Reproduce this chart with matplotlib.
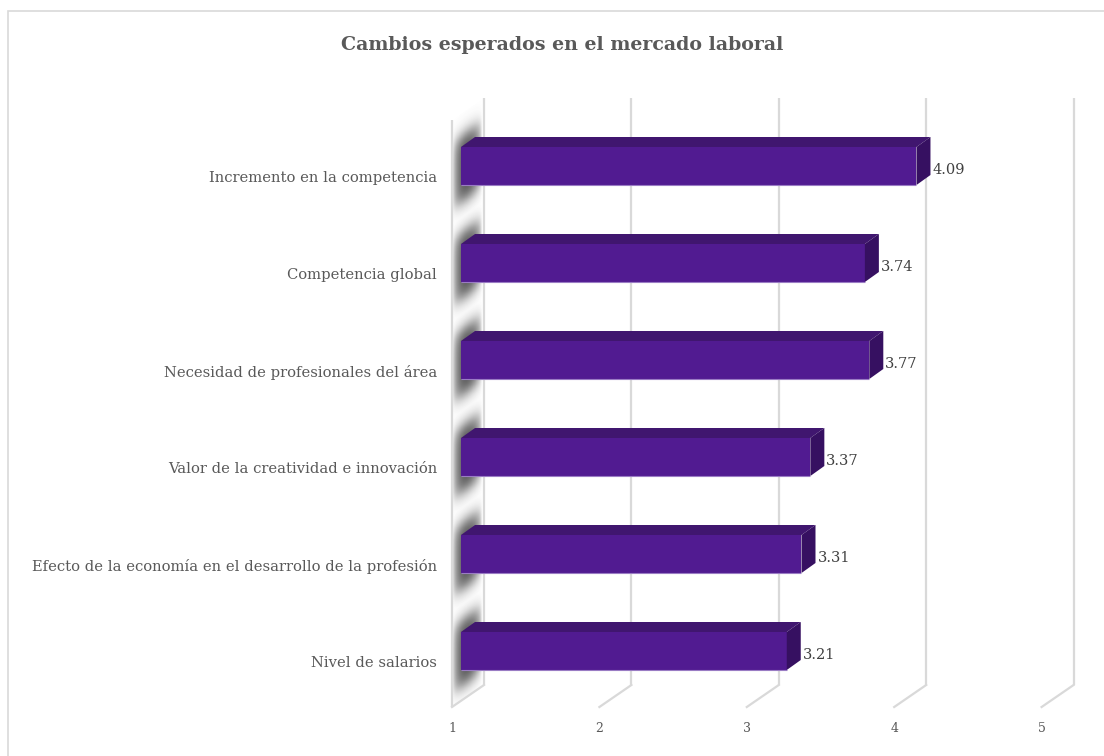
import matplotlib.pyplot as plt
import numpy as np
from matplotlib.patches import Polygon, Rectangle

categories = ['Incremento en la competencia', 'Competencia global',
              'Necesidad de profesionales del área', 'Valor de la creatividad e innovación',
              'Efecto de la economía en el desarrollo de la profesión', 'Nivel de salarios']
values = [4.09, 3.74, 3.77, 3.37, 3.31, 3.21]
ticks = [1, 2, 3, 4, 5]
title = 'Cambios esperados en el mercado laboral'

c_front = '#511B91'
c_top = '#40166F'
c_side = '#361061'
c_grid = '#D9D9D9'
c_text = '#595959'
font = 'DejaVu Serif'

W, H = 1104, 756
fig = plt.figure(figsize=(W / 100, H / 100), dpi=100)

# front plane of the bars (pixels): x 1->461, 5->1050.6 ; 97 px per category
left_px, right_px, top_px, bot_px = 461, 1050.6, 117.5, 699.5
ax = fig.add_axes([left_px / W, (H - bot_px) / H, (right_px - left_px) / W, (bot_px - top_px) / H])
ax.set_xlim(1, 5)
ax.set_ylim(5.5, -0.5)
ax.set_axis_off()

ux = 4 / (right_px - left_px)   # data per pixel, x
uy = 6 / (bot_px - top_px)      # data per pixel, y (downwards)

# depth offsets in pixels relative to bar front plane
fx, fy = -9, 6      # floor front
bx, by = 14, -10    # bar back
wx, wy = 23, -16    # back wall

ytop, ybot = -0.5 - 3.5 * uy, 5.5 + 1.5 * uy

# back wall gridlines + floor diagonals
for k in ticks:
    ax.plot([k + wx * ux, k + wx * ux], [ytop + wy * uy, ybot + wy * uy], color=c_grid, lw=1.6,
            clip_on=False, zorder=1, solid_capstyle='butt')
    ax.plot([k + wx * ux, k + fx * ux], [ybot + wy * uy, ybot + fy * uy], color=c_grid, lw=1.6,
            clip_on=False, zorder=1)
    ax.text(k + fx * ux, ybot + (fy + 21) * uy, str(k), ha='center', va='center',
            fontsize=9, color=c_text, family=font)

# side wall front edge
ax.plot([1 + fx * ux, 1 + fx * ux], [ytop + fy * uy, ybot + fy * uy], color=c_grid, lw=1.6,
        clip_on=False, zorder=1, solid_capstyle='butt')

# shadows of bars on the side wall
n = len(categories)
h = 38 * uy
nx, ny = 40, 700
xs = np.linspace(1 + fx * ux, 1 + wx * ux, nx)
ys = np.linspace(ytop + wy * uy, ybot + fy * uy, ny)
X, Y = np.meshgrid(xs, ys)
t = ((X - 1) / ux - fx) / (wx - fx)              # depth 0..1
yb = Y + (22 * (t - 9 / 32)) * uy                 # back to bar-front plane
alpha = np.zeros_like(X)
for i in range(n):
    c = i + 3 * uy
    half = (h / 2 + 14 * uy)
    d = np.abs(yb - c) - half
    a = 1 / (1 + np.exp(d / (5 * uy)))
    alpha = np.maximum(alpha, a)
depth = np.clip(np.sin(np.pi * np.clip(t * 1.05, 0, 1)) ** 0.6, 0, 1)
alpha = alpha * depth * 0.85
rgba = np.zeros((ny, nx, 4))
rgba[..., :3] = 0.22
rgba[..., 3] = alpha
im = ax.imshow(rgba, extent=(xs[0], xs[-1], ys[-1], ys[0]), origin='upper', aspect='auto',
               interpolation='bilinear', zorder=0.5)
wall = Polygon([(1 + fx * ux, ybot + fy * uy), (1 + wx * ux, ybot + wy * uy),
                (1 + wx * ux, ytop + wy * uy), (1 + fx * ux, ytop + fy * uy)],
               closed=True, transform=ax.transData, fill=False, lw=0)
ax.add_patch(wall)
im.set_clip_path(wall)
im.set_clip_box(fig.bbox)
ax.set_xlim(1, 5)
ax.set_ylim(5.5, -0.5)

# bars
for i, v in enumerate(values):
    y0, y1 = i - h / 2, i + h / 2
    ax.barh(i, v - 1, left=1, height=h, color=c_front, zorder=3, lw=0)
    ax.plot([1, v], [y1, y1], color='#9A7CC4', lw=0.8, zorder=3.5, solid_capstyle='butt')
    top = Polygon([(1, y0), (v, y0), (v + bx * ux, y0 + by * uy), (1 + bx * ux, y0 + by * uy)],
                  closed=True, facecolor=c_top, lw=0, zorder=3, clip_on=False)
    side = Polygon([(v, y0), (v + bx * ux, y0 + by * uy), (v + bx * ux, y1 + by * uy), (v, y1)],
                   closed=True, facecolor=c_side, lw=0, zorder=3, clip_on=False)
    ax.add_patch(top)
    ax.add_patch(side)
    ax.text(v + (bx + 2) * ux, i + 4 * uy, f'{v:.2f}', ha='left', va='center',
            fontsize=10.5, color='#404040', family=font, zorder=4)
    ax.text(1 - 24 * ux, i + 12 * uy, categories[i], ha='right', va='center',
            fontsize=10.6, color=c_text, family=font)

fig.text(562 / W, 1 - 45 / H, title, ha='center', va='center', fontsize=13.7,
         fontweight='bold', color=c_text, family=font)

fig.patches.append(Rectangle((8 / W, -0.01), 1.1, 1 - 11 / H + 0.01, transform=fig.transFigure,
                             fill=False, edgecolor=c_grid, lw=1.2))

fig.savefig('out.png', dpi=100)
